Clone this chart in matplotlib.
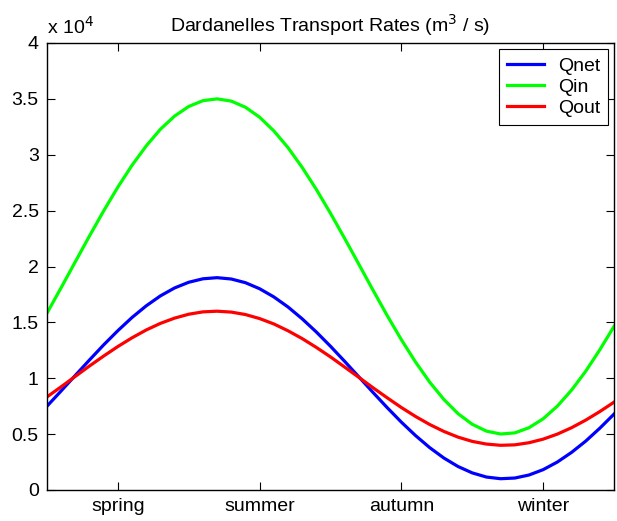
import numpy as np
import matplotlib
matplotlib.use("Agg")
import matplotlib.pyplot as plt
from matplotlib.ticker import FuncFormatter

plt.rcParams["font.family"] = ["Liberation Sans", "DejaVu Sans"]

seasons = ["spring", "summer", "autumn", "winter"]
season_pos = [1, 2, 3, 4]

# values, x from 0.5 to 4.5 in steps of 0.1
x = np.linspace(0.5, 4.5, 41)

q_net = [7500, 8870, 10260, 11640, 12990, 14260, 15440, 16480, 17370, 18080,
         18590, 18900, 19000, 18880, 18550, 18010, 17280, 16380, 15320, 14140,
         12860, 11510, 10120, 8730, 7370, 6070, 4870, 3790, 2860, 2100,
         1530, 1160, 1010, 1070, 1340, 1820, 2500, 3360, 4370, 5530, 6790]

q_in = [15830, 18110, 20430, 22740, 24980, 27110, 29060, 30790, 32280, 33460,
        34320, 34840, 35000, 34800, 34250, 33360, 32140, 30640, 28870, 26900,
        24760, 22510, 20200, 17880, 15610, 13450, 11450, 9650, 8100, 6830,
        5880, 5270, 5010, 5110, 5570, 6370, 7500, 8930, 10620, 12550, 14640]

q_out = [8330, 9240, 10170, 11100, 11990, 12840, 13620, 14320, 14910, 15380,
         15730, 15940, 16000, 15920, 15700, 15340, 14860, 14250, 13550, 12760,
         11910, 11000, 10080, 9150, 8250, 7380, 6580, 5860, 5240, 4730,
         4350, 4110, 4000, 4040, 4230, 4550, 5000, 5570, 6250, 7020, 7860]

fig = plt.figure(figsize=(6.17, 5.21), dpi=100)
ax = fig.add_axes([47 / 617, 31 / 521, 567 / 617, 447 / 521])

ax.plot(x, q_net, color=(0, 0, 1), lw=2.3, label="Qnet")
ax.plot(x, q_in, color=(0, 1, 0), lw=2.3, label="Qin")
ax.plot(x, q_out, color=(1, 0, 0), lw=2.3, label="Qout")

ax.set_xlim(0.5, 4.5)
ax.set_ylim(0, 40000)
ax.set_xticks(season_pos)
ax.set_xticklabels(seasons)
ax.set_yticks(np.arange(0, 40001, 5000))
ax.yaxis.set_major_formatter(FuncFormatter(lambda v, p: "%g" % (v / 1e4)))
ax.tick_params(direction="in", top=True, right=True, length=6, width=0.8,
               labelsize=14, pad=6)
for s in ax.spines.values():
    s.set_linewidth(1.0)

ax.text(0.0, 1.012, "x 10$^4$", transform=ax.transAxes, fontsize=14,
        ha="left", va="bottom")
ax.set_title("Dardanelles Transport Rates (m$^3$ / s)", fontsize=14, pad=8)

leg = ax.legend(loc="upper right", fontsize=14, fancybox=False, framealpha=1,
                edgecolor="black", handlelength=1.9, borderpad=0.4,
                labelspacing=0.18, borderaxespad=0.32, handletextpad=0.7)
leg.get_frame().set_linewidth(0.8)

fig.savefig("out.png", dpi=100)
